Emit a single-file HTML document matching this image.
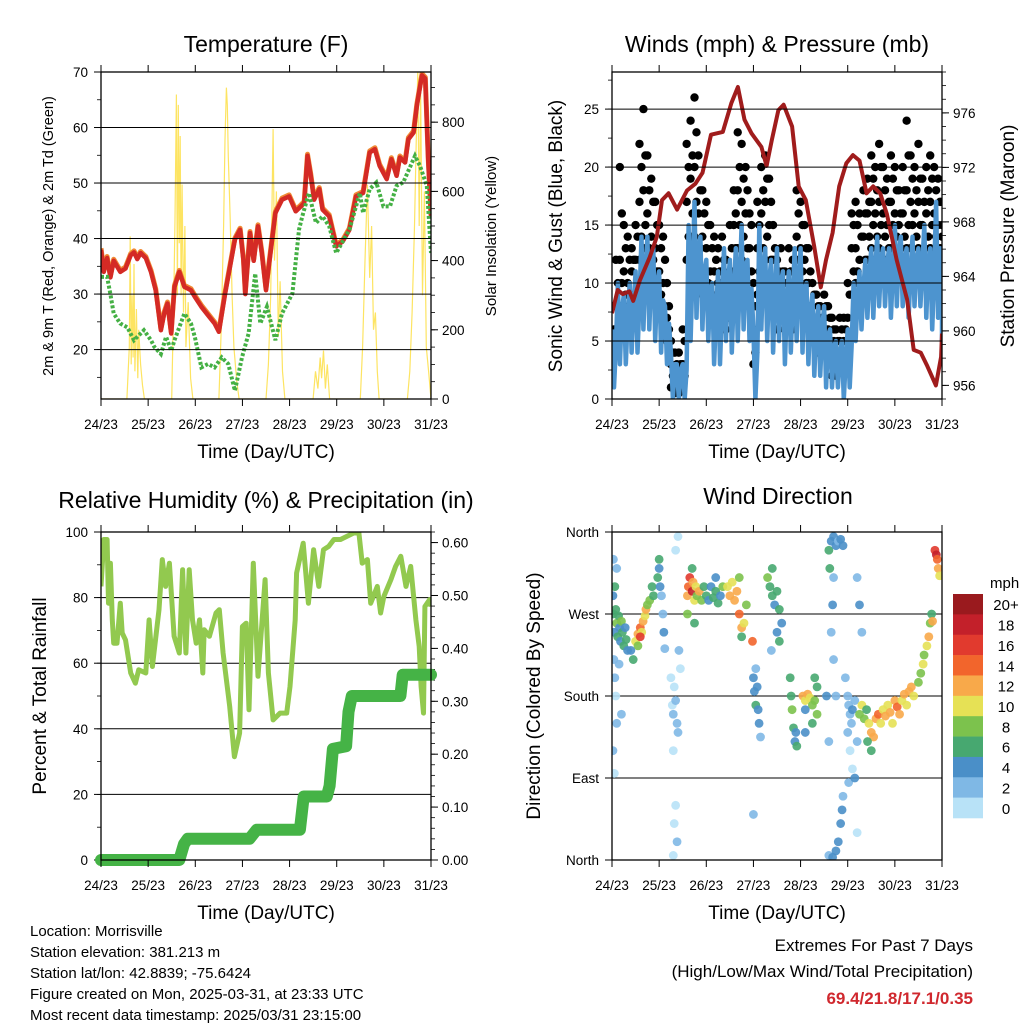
<!DOCTYPE html>
<html><head><meta charset="utf-8"><style>
html,body{margin:0;padding:0;background:#fff;}
svg{display:block;font-family:"Liberation Sans",Arial,sans-serif;}
</style></head><body>
<svg id="fig" width="1024" height="1024" viewBox="0 0 1024 1024" xmlns="http://www.w3.org/2000/svg">
<rect width="1024" height="1024" fill="#fff"/>
<text x="266" y="52" font-size="23" text-anchor="middle">Temperature (F)</text>
<text x="777" y="52" font-size="23" text-anchor="middle">Winds (mph) &amp; Pressure (mb)</text>
<text x="266" y="508" font-size="23" text-anchor="middle">Relative Humidity (%) &amp; Precipitation (in)</text>
<text x="778" y="504" font-size="23" text-anchor="middle">Wind Direction</text>
<text transform="translate(53,236) rotate(-90)" font-size="14.5" text-anchor="middle">2m &amp; 9m T (Red, Orange) &amp; 2m Td (Green)</text>
<text transform="translate(496,236) rotate(-90)" font-size="15" text-anchor="middle">Solar Insolation (Yellow)</text>
<text transform="translate(562,236) rotate(-90)" font-size="19" text-anchor="middle">Sonic Wind &amp; Gust (Blue, Black)</text>
<text transform="translate(1014,236) rotate(-90)" font-size="19" text-anchor="middle">Station Pressure (Maroon)</text>
<text transform="translate(46,696) rotate(-90)" font-size="19" text-anchor="middle">Percent &amp; Total Rainfall</text>
<text transform="translate(540,696) rotate(-90)" font-size="19" text-anchor="middle">Direction (Colored By Speed)</text>
<g font-size="15">
<text x="30" y="936">Location: Morrisville</text>
<text x="30" y="957">Station elevation: 381.213 m</text>
<text x="30" y="978">Station lat/lon: 42.8839; -75.6424</text>
<text x="30" y="999">Figure created on Mon, 2025-03-31, at 23:33 UTC</text>
<text x="30" y="1020">Most recent data timestamp: 2025/03/31 23:15:00</text>
</g>
<g text-anchor="end">
<text x="973" y="951" font-size="17">Extremes For Past 7 Days</text>
<text x="973" y="977" font-size="17">(High/Low/Max Wind/Total Precipitation)</text>
<text x="973" y="1004" font-size="17" font-weight="bold" fill="#d0282e">69.4/21.8/17.1/0.35</text>
</g>
<text x="990" y="588" font-size="15">mph</text>
</svg>
<script>
// ---------- data ----------
const dayLabels = ["24/23","25/23","26/23","27/23","28/23","29/23","30/23","31/23"];
const tempTimes = [0,0.06,0.13,0.2,0.27,0.41,0.52,0.63,0.7,0.77,0.84,0.95,1.06,1.16,1.27,1.34,1.41,1.49,1.56,1.66,1.77,1.91,1.99,2.13,2.27,2.41,2.5,2.63,2.84,2.95,3.02,3.06,3.16,3.24,3.33,3.41,3.5,3.56,3.7,3.84,3.99,4.13,4.24,4.31,4.38,4.45,4.52,4.63,4.7,4.84,4.99,5.13,5.27,5.41,5.56,5.7,5.81,5.91,6.06,6.16,6.27,6.34,6.45,6.52,6.63,6.7,6.81,6.88,6.94,7.0];
const tempValues = [38,34,36.5,33,36,34,34.6,37,37.5,36.3,37.4,36.5,34,30.7,23.5,26.5,28.3,22.9,31.3,34,31.3,30.7,29.5,27.7,26.2,24.7,23.2,30,39.8,41.6,36.2,30,41,36,42.2,37.4,30.7,35,44.6,47,47.6,44.9,45.8,46.4,54.9,51.3,47,48.9,45.2,44,38.6,39.5,41.6,47.6,48.2,55.5,56.1,53.1,50.7,54.3,51.3,54.6,53.7,57.9,59.1,64,69.4,68.8,54.3,44];
const dewTimes = [0,0.13,0.2,0.27,0.41,0.56,0.7,0.91,1.06,1.13,1.27,1.38,1.49,1.56,1.77,1.91,1.99,2.13,2.27,2.41,2.56,2.7,2.84,2.99,3.13,3.27,3.38,3.52,3.7,3.84,4.06,4.2,4.27,4.41,4.56,4.7,4.84,4.99,5.27,5.49,5.56,5.7,5.84,5.99,6.13,6.27,6.41,6.66,6.77,6.91,7.0];
const dewValues = [33.1,33.1,30,26.5,24.7,24,21.7,23.5,21.7,20.5,19.2,22.3,19.8,21.7,26.5,24.7,22.3,16.8,17.4,16.8,18.6,17.4,12.6,18.6,22.9,33.7,24.7,27.7,21.7,26.5,30.1,41.6,44,48.2,42.8,44,42.2,37.4,41.6,48.2,44.6,48.9,50.1,45.8,45.8,49.5,50.1,54.9,53,49.5,37.4];
const solarTimes = [0,0.55,0.6,0.62,0.64,0.66,0.68,0.7,0.72,0.75,0.78,0.8,0.84,0.88,0.92,1.5,1.55,1.57,1.6,1.62,1.64,1.66,1.68,1.7,1.72,1.75,1.78,1.8,1.85,1.9,1.95,2.5,2.55,2.6,2.63,2.66,2.68,2.7,2.74,2.78,2.82,2.88,2.93,3.5,3.55,3.6,3.65,3.68,3.72,3.76,3.8,3.85,3.9,4.5,4.55,4.6,4.65,4.68,4.72,4.76,4.8,4.85,5.5,5.55,5.6,5.65,5.7,5.74,5.78,5.82,5.86,5.9,6.5,6.55,6.6,6.65,6.68,6.72,6.75,6.78,6.82,6.86,6.9,6.95,7.0];
const solarValues = [0,0,150,470,100,300,120,390,80,260,60,200,100,40,0,0,350,520,880,300,850,450,760,300,620,250,500,150,280,60,0,0,200,500,750,900,850,700,520,300,150,50,0,0,100,300,780,400,600,180,340,80,0,0,80,30,120,60,140,30,100,0,0,150,400,620,350,500,200,250,80,0,0,80,250,500,700,950,500,900,300,600,150,80,0];
const pressTimes = [0,0.12,0.23,0.37,0.45,0.59,0.8,0.95,1.06,1.2,1.38,1.59,1.77,1.92,2.1,2.35,2.53,2.67,2.81,2.96,3.17,3.28,3.39,3.53,3.64,3.82,3.96,4.11,4.29,4.43,4.54,4.68,4.82,4.97,5.11,5.25,5.4,5.54,5.69,5.83,6.04,6.26,6.4,6.55,6.69,6.87,6.98,7.0];
const pressValues = [961.3,963.0,962.7,962.9,962.2,963.7,965.4,966.9,969.6,970.1,968.9,970.3,970.8,971.6,974.4,974.6,976.7,977.9,975.5,974.5,973.5,972.1,974.0,976.2,976.6,975.0,970.6,969.6,966.2,963.2,965.2,967.2,970.6,972.3,972.9,972.5,970.1,970.6,970.1,968.6,965.2,962.3,958.6,958.4,957.4,956.0,958.1,959.8];
const windHi = [6,10,9,10,11,14,14,13,11,8,4,3,3,15,17,14,12,10,11,13,12,13,15,12,6,15,13,12,13,11,11,13,13,10,9,8,8,6,5,5,6,10,11,12,13,14,13,13,15,14,13,14,13,15,13,17,12];
const windLo = [1,3,3,4,4,6,6,5,4,3,0,0,0,5,7,6,5,3,3,5,4,5,6,5,0,6,5,4,5,3,4,5,4,3,2,2,1,1,1,0,1,5,6,7,7,8,8,7,8,8,7,8,8,7,6,7,5];
const gustHi = [8,12,20,15,14,13,15,22,25,21,19,17,15,14,10,5,4,4,6,22,24,26,21,18,17,15,14,13,14,12,15,18,23,22,20,16,10,17,20,21,19,15,12,13,11,13,12,18,17,15,13,10,9,8,9,8,7,6,7,7,10,16,17,16,18,19,21,20,22,20,19,21,20,18,20,24,21,20,22,19,20,21,20,19,17];
const gustA = [6,10,16,13,12,12,14,20,21,18,17,15,13,12,8,4,3,3,5,20,21,23,18,16,15,13,12,11,12,10,13,16,20,19,18,15,8,15,18,19,17,13,11,11,10,11,10,16,15,13,11,9,8,7,8,7,6,5,6,6,9,15,15,14,16,17,19,18,20,18,17,19,18,16,18,21,19,18,19,17,18,19,18,17,15];
const gustMid = [5,8,12,11,10,11,12,17,18,16,14,13,11,10,7,3,2,2,3,17,19,20,16,14,13,11,11,10,10,9,11,15,18,17,16,13,6,13,16,17,15,12,9,10,9,10,9,14,13,12,10,7,7,6,7,6,5,4,5,5,7,13,13,12,14,16,17,16,17,16,15,17,16,15,16,18,17,16,17,15,16,17,16,15,14];
const gustB = [4,6,10,9,9,9,10,14,15,13,12,11,9,8,6,2,1,1,2,14,16,17,13,11,10,9,8,8,8,7,9,13,15,14,13,11,4,11,13,14,12,10,7,8,7,8,7,12,11,10,8,6,5,5,6,5,5,3,3,4,5,11,11,10,12,14,15,14,15,14,13,15,14,13,14,15,15,14,15,13,14,15,14,13,12];
const gustLo = [3,5,8,8,7,8,9,12,13,11,10,9,8,6,5,1,0.5,0.5,1,12,14,14,11,9,8,8,7,6,6,6,8,11,13,12,11,9,3,9,11,12,10,8,6,7,6,7,6,10,9,8,7,5,4,4,5,4,2,2,3,3,4,9,10,9,10,12,13,12,13,12,12,13,12,12,12,13,13,12,13,12,12,13,12,12,11];
const rhTimes = [0,0.06,0.13,0.16,0.2,0.24,0.27,0.34,0.41,0.45,0.52,0.63,0.73,0.8,0.95,1.02,1.09,1.23,1.3,1.37,1.45,1.55,1.66,1.73,1.8,1.87,1.94,2.02,2.09,2.16,2.19,2.3,2.44,2.51,2.59,2.73,2.83,2.94,3.0,3.08,3.14,3.23,3.33,3.48,3.55,3.65,3.8,3.94,4.01,4.12,4.15,4.29,4.4,4.51,4.62,4.72,4.83,4.94,5.08,5.22,5.36,5.47,5.54,5.65,5.72,5.86,5.93,6.0,6.15,6.25,6.36,6.47,6.57,6.68,6.75,6.79,6.84,6.87,6.97,7.0];
const rhValues = [83.4,97.7,97.7,78.3,90.5,73.2,66.1,66.1,78.3,69.2,67.1,57,53.9,58,57,73.2,59,76.3,91.6,83.4,90.5,68.2,63.1,88.5,63.1,88.5,73.2,66.1,73.2,57,70.2,68.2,75.3,76.3,63.1,46.8,31.5,38.7,71.2,72.2,45.8,90.5,56,85.5,57,42.7,44.8,44.8,52.9,73.2,87.5,96.6,78.3,94.6,83.4,94.6,95.6,97.7,97.7,98.7,99.7,99.7,90.5,91.6,78.3,83.4,75.3,80.4,85.5,89.5,92.6,83.4,89.5,73.2,65.1,52.9,44.8,77.3,79.4,77.3];
const precipTimes = [0,1.66,1.76,1.84,3.15,3.3,4.22,4.3,4.79,4.85,4.92,5.2,5.25,5.32,6.35,6.4,7.0];
const precipValues = [0,0,0.03,0.04,0.04,0.057,0.057,0.12,0.12,0.14,0.21,0.215,0.28,0.31,0.31,0.35,0.35];
const dirTimes = [0.02,0.03,0.05,0.06,0.08,0.1,0.12,0.14,0.16,0.18,0.2,0.22,0.25,0.28,0.3,0.33,0.04,0.06,0.08,0.1,0.02,0.05,0.15,0.2,0.03,0.1,
0.5,0.55,0.6,0.63,0.66,0.7,0.72,0.75,0.8,0.85,0.88,0.55,0.6,0.45,0.4,
0.97,1.0,1.02,1.05,1.08,1.1,1.12,1.0,
1.25,1.28,1.3,1.32,1.35,1.38,1.4,1.3,1.35,1.32,1.38,1.3,1.35,1.4,1.42,1.45,
1.6,1.62,1.65,1.7,1.72,1.75,1.78,1.8,1.85,1.9,1.95,1.6,1.7,1.75,
2.0,2.05,2.1,2.15,2.2,2.25,2.3,2.35,2.2,
2.45,2.5,2.55,2.6,2.65,2.7,2.75,2.8,2.85,2.75,2.7,
2.98,3.0,3.02,3.05,3.08,3.1,3.12,3.15,3.05,3.0,
3.3,3.35,3.4,3.45,3.5,3.55,3.6,3.4,3.5,3.38,3.55,
3.78,3.8,3.82,3.85,3.88,3.9,3.92,
4.05,4.1,4.15,4.2,4.25,4.3,4.35,4.3,4.35,4.25,4.1,4.1,
4.6,4.65,4.7,4.75,4.8,4.85,4.9,4.62,4.7,4.68,4.65,4.7,4.75,4.55,4.6,4.6,4.68,4.75,4.8,4.85,4.88,4.9,
4.95,5.0,5.02,5.05,5.08,5.1,5.15,5.0,5.05,5.1,5.02,5.15,5.2,5.2,5.25,5.3,5.2,
5.25,5.3,5.35,5.4,5.45,5.5,5.55,5.5,5.42,
5.6,5.65,5.7,5.75,5.8,5.85,5.9,5.95,6.0,6.05,6.1,6.15,6.2,6.25,6.3,6.35,6.4,
6.5,6.55,6.6,6.62,6.68,6.72,6.75,6.78,6.8,
6.85,6.88,6.9,6.92,6.95];
const dirDegrees = [290,270,250,300,275,260,245,268,255,240,262,250,235,255,242,230,220,200,180,150,120,95,215,160,330,320,
240,248,255,250,262,268,275,280,285,300,290,235,245,220,230,
310,320,300,290,270,250,232,330,
200,170,160,190,175,150,140,120,60,40,20,5,340,355,230,210,
290,300,310,295,305,285,300,290,295,285,300,270,320,260,
290,285,300,288,295,282,290,300,310,
300,290,305,285,295,270,255,260,280,245,310,
240,200,185,170,190,165,150,135,210,50,
310,300,290,280,295,275,260,320,250,230,240,
200,180,165,145,130,140,125,
180,175,182,178,170,175,160,200,190,150,140,165,
340,350,355,345,350,352,345,320,310,280,250,220,180,180,130,5,3,10,20,40,55,70,
200,180,170,160,150,165,175,140,120,100,85,90,130,310,280,250,30,
160,170,155,165,150,140,135,120,130,
155,160,150,165,158,170,162,150,175,168,160,175,182,170,185,190,180,
195,205,215,225,235,245,260,270,262,
340,335,330,320,312];
const dirSpeeds = [4,6,5,6,7,8,6,7,5,4,8,6,6,5,7,5,3,2,1,2,3,1,2,3,2,3,
10,12,14,11,12,10,13,9,8,7,6,9,16,6,4,
7,5,4,3,3,4,3,6,
1,1,2,1,2,2,3,1,0,1,2,0,1,0,2,1,
12,14,16,18,13,11,10,9,12,8,7,8,6,7,
6,5,4,6,7,6,5,8,4,
11,12,10,13,12,14,12,10,9,7,8,
14,5,4,6,5,4,4,3,3,3,
8,7,6,5,6,6,4,7,5,3,6,
6,7,8,6,5,4,6,
12,11,13,10,9,8,8,7,6,6,5,4,
6,4,5,4,3,4,5,7,3,4,3,2,2,4,3,2,4,4,5,5,4,3,
2,3,2,2,3,4,3,2,1,1,3,4,2,3,4,3,1,
9,10,8,7,10,12,13,6,6,
12,14,11,10,12,11,13,10,12,14,12,11,12,10,13,12,10,
9,8,10,9,11,12,8,7,12,
16,18,14,12,10];
const speedBins = ["0","2","4","6","8","10","12","14","16","18","20+"];
const speedColors = ["#b8e2f7","#7fb8e5","#4a8fc8","#47a870","#7cc24d","#e6e155","#f8a94a","#f2652c","#e13a2e","#c3202a","#9a1a1e"];

// ---------- helpers ----------
const NS = "http://www.w3.org/2000/svg";
const svg = document.getElementById("fig");
function mk(tag, attrs, parent) {
  const e = document.createElementNS(NS, tag);
  for (const k in attrs) e.setAttribute(k, attrs[k]);
  (parent || svg).appendChild(e);
  return e;
}
function linScale(d0, d1, r0, r1) { return v => r0 + (v - d0) / (d1 - d0) * (r1 - r0); }
function panel(L, R, T, B, name) {
  const g = mk("g", {});
  
  
  return { L, R, T, B, g, x: linScale(0, 7, L, R) };
}
function frame(p) {
  const r = mk("rect", { x: p.L, y: p.T, width: p.R - p.L, height: p.B - p.T, fill: "none", stroke: "#000", "stroke-width": 1.3 }, p.g);
  
  
}
function xAxis(p) {
  for (let i = 0; i < dayLabels.length; i++) {
    const x = p.x(i);
    mk("line", { x1: x, x2: x, y1: p.B, y2: p.B + 7, stroke: "#000", "stroke-width": 1 }, p.g);
    mk("line", { x1: x, x2: x, y1: p.T, y2: p.T - 7, stroke: "#000", "stroke-width": 1 }, p.g);
    const t = mk("text", { x: x, y: p.B + 30, "font-size": 13.5, "text-anchor": "middle" }, p.g);
    
    
    t.textContent = dayLabels[i];
  }
  const tt = mk("text", { x: (p.L + p.R) / 2, y: p.B + 59, "font-size": 19, "text-anchor": "middle" }, p.g);
  
  
  tt.textContent = "Time (Day/UTC)";
}
function yAxis(p, sc, d0, d1, major, minor, side, fmt, grid, labels) {
  const eps = 1e-6;
  if (minor) for (let v = Math.ceil(d0 / minor - eps) * minor; v <= d1 + eps; v += minor) {
    const y = sc(v);
    if (side === "L") mk("line", { x1: p.L, x2: p.L - 4, y1: y, y2: y, stroke: "#000", "stroke-width": 0.8 }, p.g);
    else mk("line", { x1: p.R, x2: p.R + 4, y1: y, y2: y, stroke: "#000", "stroke-width": 0.8 }, p.g);
  }
  let idx = 0;
  for (let v = Math.ceil(d0 / major - eps) * major; v <= d1 + eps; v += major, idx++) {
    const y = sc(v);
    if (grid) mk("line", { x1: p.L, x2: p.R, y1: y, y2: y, stroke: "#000", "stroke-width": 1 }, p.g);
    let t;
    if (side === "L") {
      mk("line", { x1: p.L, x2: p.L - 7, y1: y, y2: y, stroke: "#000", "stroke-width": 1 }, p.g);
      t = mk("text", { x: p.L - 13, y: y + 5, "font-size": 13.5, "text-anchor": "end" }, p.g);
    } else {
      mk("line", { x1: p.R, x2: p.R + 7, y1: y, y2: y, stroke: "#000", "stroke-width": 1 }, p.g);
      t = mk("text", { x: p.R + 11, y: y + 5, "font-size": 13.5, "text-anchor": "start" }, p.g);
    }
    
    
    t.textContent = labels ? labels[idx] : fmt(v);
  }
}
function pathOf(ts, vs, xs, ys) {
  return ts.map((t, i) => (i ? "L" : "M") + xs(t).toFixed(1) + "," + ys(vs[i]).toFixed(1)).join("");
}
function clip(p, id) {
  const cp = mk("clipPath", { id: id }, p.g);
  mk("rect", { x: p.L, y: p.T, width: p.R - p.L, height: p.B - p.T }, cp);
  const g = mk("g", { "clip-path": "url(#" + id + ")" }, p.g);
  return g;
}

// ---------- Panel 1: temperature ----------
{
  const p = panel(101, 431, 72, 399, "temperature-panel");
  const yT = linScale(11.1, 70, 399, 72);
  const yS = linScale(0, 945, 399, 72);
  const c = clip(p, "c1");
  const sol = mk("path", { d: pathOf(solarTimes, solarValues, p.x, yS), fill: "none", stroke: "#fde462", "stroke-width": 1.2 }, c);
  
  
  yAxis(p, yT, 11.1, 70, 10, 5, "L", v => String(v), true);
  yAxis(p, yS, 0, 945, 200, 50, "R", v => String(v), false);
  const t9 = mk("path", { d: pathOf(tempTimes, tempValues, p.x, yT), fill: "none", stroke: "#f08a35", "stroke-width": 5, "stroke-linejoin": "round", transform: "translate(0,-1.5)" }, c);
  
  
  const t2 = mk("path", { d: pathOf(tempTimes, tempValues, p.x, yT), fill: "none", stroke: "#d42a25", "stroke-width": 4.5, "stroke-linejoin": "round" }, c);
  
  
  const td = mk("path", { d: pathOf(dewTimes, dewValues, p.x, yT), fill: "none", stroke: "#44b044", "stroke-width": 4, "stroke-dasharray": "3 2" }, c);
  
  
  frame(p); xAxis(p);
}

// ---------- Panel 2: winds & pressure ----------
{
  const p = panel(612, 942, 72, 399, "winds-panel");
  const yW = linScale(0, 28.2, 399, 72);
  const yP = linScale(955, 979, 399, 72);
  const c = clip(p, "c2");
  yAxis(p, yW, 0, 28.2, 5, 2.5, "L", v => String(v), true);
  yAxis(p, yP, 955, 979, 4, 1, "R", v => String(v), false);
  const gustSets = [gustHi, gustA, gustMid, gustB, gustLo];
  for (let s = 0; s < gustSets.length; s++) {
    const arr = gustSets[s];
    const off = (s % 2) ? 1 / 24 : 0;
    for (let i = 0; i < arr.length; i++) {
      const t = Math.min(7, i / 12 + off);
      const d = mk("circle", { cx: p.x(t), cy: yW(arr[i]), r: 4.2, fill: "#000" }, c);
      
      
    }
  }
  let d = "";
  for (let i = 0; i < windHi.length; i++) {
    const t = i / 8;
    d += (i ? "L" : "M") + p.x(t).toFixed(1) + "," + yW(windHi[i]).toFixed(1);
    d += "L" + p.x(Math.min(7, t + 1 / 24)).toFixed(1) + "," + yW(windLo[i]).toFixed(1);
    d += "L" + p.x(Math.min(7, t + 2 / 24)).toFixed(1) + "," + yW((windHi[i] + windLo[i]) / 2 + 1).toFixed(1);
  }
  const wl = mk("path", { d: d, fill: "none", stroke: "#4d94cf", "stroke-width": 4.5, "stroke-linejoin": "round" }, c);
  
  
  const pl = mk("path", { d: pathOf(pressTimes, pressValues, p.x, yP), fill: "none", stroke: "#a01c1c", "stroke-width": 4, "stroke-linejoin": "round" }, c);
  
  
  frame(p); xAxis(p);
}

// ---------- Panel 3: RH & precip ----------
{
  const p = panel(101, 431, 532, 860, "humidity-panel");
  const yR = linScale(0, 100, 860, 532);
  const yQ = linScale(0, 0.62, 860, 532);
  yAxis(p, yR, 0, 100, 20, 10, "L", v => String(v), true);
  yAxis(p, yQ, 0, 0.62, 0.1, 0.02, "R", v => v.toFixed(2), false);
  const c = clip(p, "c3");
  const rl = mk("path", { d: pathOf(rhTimes, rhValues, p.x, yR), fill: "none", stroke: "#92c94f", "stroke-width": 5, "stroke-linejoin": "round" }, c);
  
  
  const ql = mk("path", { d: pathOf(precipTimes, precipValues, p.x, yQ), fill: "none", stroke: "#45b346", "stroke-width": 12, "stroke-linejoin": "round", "stroke-linecap": "round" }, p.g);
  
  
  frame(p); xAxis(p);
}

// ---------- Panel 4: wind direction ----------
{
  const p = panel(612, 942, 532, 860, "wind-direction-panel");
  const yD = linScale(0, 360, 860, 532);
  yAxis(p, yD, 0, 360, 90, 0, "L", null, true, ["North", "East", "South", "West", "North"]);
  const c = clip(p, "c4");
  for (let i = 0; i < dirTimes.length; i++) {
    const bin = Math.min(10, Math.floor(dirSpeeds[i] / 2));
    const d = mk("circle", { cx: p.x(dirTimes[i]), cy: yD(dirDegrees[i]), r: 4.4, fill: speedColors[bin], "fill-opacity": 0.9 }, c);
    
    
  }
  frame(p); xAxis(p);
  // colorbar
  const cb = mk("g", {});
  
  
  const top = 594, bh = (818 - 594) / speedBins.length;
  for (let i = 0; i < speedBins.length; i++) {
    const k = speedBins.length - 1 - i;
    const r = mk("rect", { x: 953, y: top + i * bh, width: 30, height: bh + 0.3, fill: speedColors[k] }, cb);
    
    
    const t = mk("text", { x: 1006, y: top + i * bh + bh / 2 + 6, "font-size": 15, "text-anchor": "middle" }, cb);
    
    
    t.textContent = speedBins[k];
  }
}
</script>
</body></html>
